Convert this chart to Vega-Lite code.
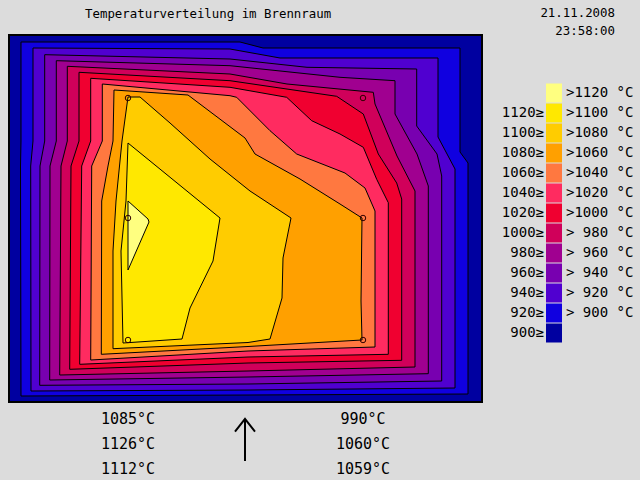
{
  "$schema": "https://vega.github.io/schema/vega-lite/v6.json",
  "background": "#DCDCDC",
  "padding": {"left": 8, "top": 6, "right": 7, "bottom": 0},
  "autosize": {"type": "pad"},
  "config": {"view": {"stroke": null}, "font": "DejaVu Sans Mono"},
  "datasets": {
    "contours": [
      {"level":900,"i":0,"x":21,"y":41},{"level":900,"i":1,"x":240,"y":41},{"level":900,"i":2,"x":263,"y":47},{"level":900,"i":3,"x":460,"y":47},{"level":900,"i":4,"x":460,"y":151},{"level":900,"i":5,"x":468,"y":162},{"level":900,"i":6,"x":468,"y":393},{"level":900,"i":7,"x":248,"y":394},{"level":900,"i":8,"x":21,"y":395},{"level":900,"i":9,"x":20.5,"y":165},{"level":900,"i":10,"x":21,"y":140},
      {"level":920,"i":0,"x":33,"y":47},{"level":920,"i":1,"x":230,"y":48},{"level":920,"i":2,"x":280,"y":57},{"level":920,"i":3,"x":438,"y":57},{"level":920,"i":4,"x":438,"y":136},{"level":920,"i":5,"x":455,"y":168},{"level":920,"i":6,"x":455,"y":387},{"level":920,"i":7,"x":248,"y":389},{"level":920,"i":8,"x":31,"y":390},{"level":920,"i":9,"x":30.7,"y":165},{"level":920,"i":10,"x":33,"y":140},
      {"level":940,"i":0,"x":44.7,"y":53.7},{"level":940,"i":1,"x":230,"y":58},{"level":940,"i":2,"x":307,"y":66.3},{"level":940,"i":3,"x":416.7,"y":68},{"level":940,"i":4,"x":416.7,"y":125},{"level":940,"i":5,"x":437,"y":153},{"level":940,"i":6,"x":441.7,"y":175},{"level":940,"i":7,"x":441.7,"y":380},{"level":940,"i":8,"x":248,"y":383},{"level":940,"i":9,"x":39.7,"y":384.3},{"level":940,"i":10,"x":40,"y":165},{"level":940,"i":11,"x":44.7,"y":140},
      {"level":960,"i":0,"x":56.3,"y":59.7},{"level":960,"i":1,"x":230,"y":64.7},{"level":960,"i":2,"x":340,"y":76.3},{"level":960,"i":3,"x":395,"y":79.7},{"level":960,"i":4,"x":395,"y":113},{"level":960,"i":5,"x":417,"y":153},{"level":960,"i":6,"x":428.3,"y":185},{"level":960,"i":7,"x":428.3,"y":372.7},{"level":960,"i":8,"x":248,"y":376},{"level":960,"i":9,"x":49.7,"y":379},{"level":960,"i":10,"x":50,"y":165},{"level":960,"i":11,"x":56.3,"y":140},
      {"level":980,"i":0,"x":67.3,"y":65.3},{"level":980,"i":1,"x":230,"y":73},{"level":980,"i":2,"x":287,"y":83},{"level":980,"i":3,"x":373.3,"y":91.3},{"level":980,"i":4,"x":375,"y":103},{"level":980,"i":5,"x":397,"y":155},{"level":980,"i":6,"x":415,"y":190},{"level":980,"i":7,"x":415,"y":366},{"level":980,"i":8,"x":248,"y":370},{"level":980,"i":9,"x":59.7,"y":374},{"level":980,"i":10,"x":61,"y":165},{"level":980,"i":11,"x":67.3,"y":140},
      {"level":1000,"i":0,"x":79,"y":71.3},{"level":1000,"i":1,"x":230,"y":79.7},{"level":1000,"i":2,"x":336.7,"y":95.3},{"level":1000,"i":3,"x":363.3,"y":113},{"level":1000,"i":4,"x":378.3,"y":153},{"level":1000,"i":5,"x":396.7,"y":182},{"level":1000,"i":6,"x":401.7,"y":198},{"level":1000,"i":7,"x":401.7,"y":359.3},{"level":1000,"i":8,"x":248,"y":362},{"level":1000,"i":9,"x":69.7,"y":368.3},{"level":1000,"i":10,"x":71,"y":165},{"level":1000,"i":11,"x":79,"y":140},
      {"level":1020,"i":0,"x":90.7,"y":77.3},{"level":1020,"i":1,"x":230,"y":86.3},{"level":1020,"i":2,"x":286.7,"y":96.3},{"level":1020,"i":3,"x":311.7,"y":119.7},{"level":1020,"i":4,"x":340,"y":133},{"level":1020,"i":5,"x":363.3,"y":146.3},{"level":1020,"i":6,"x":376.7,"y":178.3},{"level":1020,"i":7,"x":388.3,"y":201.7},{"level":1020,"i":8,"x":388.3,"y":353.3},{"level":1020,"i":9,"x":248,"y":356},{"level":1020,"i":10,"x":79.7,"y":363.3},{"level":1020,"i":11,"x":81.7,"y":165},{"level":1020,"i":12,"x":90.7,"y":140},
      {"level":1040,"i":0,"x":102.3,"y":83},{"level":1040,"i":1,"x":230,"y":94.7},{"level":1040,"i":2,"x":236.7,"y":96.3},{"level":1040,"i":3,"x":270,"y":129.7},{"level":1040,"i":4,"x":296.7,"y":153},{"level":1040,"i":5,"x":345,"y":172},{"level":1040,"i":6,"x":365,"y":187},{"level":1040,"i":7,"x":375,"y":210},{"level":1040,"i":8,"x":375,"y":346},{"level":1040,"i":9,"x":248,"y":350},{"level":1040,"i":10,"x":90.7,"y":359},{"level":1040,"i":11,"x":91.7,"y":165},{"level":1040,"i":12,"x":102.3,"y":140},
      {"level":1060,"i":0,"x":114,"y":89},{"level":1060,"i":1,"x":188,"y":94},{"level":1060,"i":2,"x":245,"y":137},{"level":1060,"i":3,"x":255,"y":153},{"level":1060,"i":4,"x":300,"y":178},{"level":1060,"i":5,"x":340,"y":203},{"level":1060,"i":6,"x":362,"y":217},{"level":1060,"i":7,"x":361,"y":300},{"level":1060,"i":8,"x":362,"y":339},{"level":1060,"i":9,"x":248,"y":345.5},{"level":1060,"i":10,"x":101.3,"y":353.3},{"level":1060,"i":11,"x":101.7,"y":200},{"level":1060,"i":12,"x":108,"y":165},{"level":1060,"i":13,"x":113,"y":140},
      {"level":1080,"i":0,"x":128,"y":96},{"level":1080,"i":1,"x":140,"y":96},{"level":1080,"i":2,"x":170,"y":122},{"level":1080,"i":3,"x":210,"y":158},{"level":1080,"i":4,"x":250,"y":190},{"level":1080,"i":5,"x":291,"y":217},{"level":1080,"i":6,"x":283,"y":257},{"level":1080,"i":7,"x":282,"y":297},{"level":1080,"i":8,"x":270,"y":338},{"level":1080,"i":9,"x":248,"y":341.5},{"level":1080,"i":10,"x":113,"y":347.7},{"level":1080,"i":11,"x":113,"y":250},{"level":1080,"i":12,"x":116,"y":200},{"level":1080,"i":13,"x":122,"y":140},
      {"level":1100,"i":0,"x":128,"y":142},{"level":1100,"i":1,"x":220,"y":217},{"level":1100,"i":2,"x":213,"y":260},{"level":1100,"i":3,"x":190,"y":307},{"level":1100,"i":4,"x":182,"y":338},{"level":1100,"i":5,"x":123,"y":342},{"level":1100,"i":6,"x":121,"y":250},{"level":1100,"i":7,"x":126,"y":200},
      {"level":1120,"i":0,"x":128,"y":200},{"level":1120,"i":1,"x":148,"y":218},{"level":1120,"i":2,"x":149,"y":221},{"level":1120,"i":3,"x":128,"y":269}
    ],
    "sensors": [
      {"side":"links","row":1,"x":128,"y":97,"temp":1085},
      {"side":"links","row":2,"x":128,"y":217,"temp":1126},
      {"side":"links","row":3,"x":128,"y":339,"temp":1112},
      {"side":"rechts","row":1,"x":363,"y":97,"temp":990},
      {"side":"rechts","row":2,"x":363,"y":217,"temp":1060},
      {"side":"rechts","row":3,"x":363,"y":339,"temp":1059}
    ],
    "legend": [
      {"level":1120,"left":"","right":">1120 °C"},
      {"level":1100,"left":"1120≥","right":">1100 °C"},
      {"level":1080,"left":"1100≥","right":">1080 °C"},
      {"level":1060,"left":"1080≥","right":">1060 °C"},
      {"level":1040,"left":"1060≥","right":">1040 °C"},
      {"level":1020,"left":"1040≥","right":">1020 °C"},
      {"level":1000,"left":"1020≥","right":">1000 °C"},
      {"level":980,"left":"1000≥","right":"> 980 °C"},
      {"level":960,"left":"980≥","right":"> 960 °C"},
      {"level":940,"left":"960≥","right":"> 940 °C"},
      {"level":920,"left":"940≥","right":"> 920 °C"},
      {"level":900,"left":"920≥","right":"> 900 °C"},
      {"level":880,"left":"900≥","right":""}
    ]
  },
  "spacing": 18,
  "resolve": {"scale": {"x": "independent", "y": "independent", "color": "independent"}},
  "hconcat": [
    {
      "spacing": 0,
      "resolve": {"scale": {"x": "independent", "y": "independent", "color": "independent"}},
      "vconcat": [
        {
          "width": 473,
          "height": 367,
          "title": {"text": "Temperaturverteilung im Brennraum", "anchor": "start", "frame": "group", "dx": 76, "offset": 15, "font": "DejaVu Sans Mono", "fontSize": 12.4, "fontWeight": "normal", "color": "#000000"},
          "view": {"fill": "#0000A0", "stroke": "#000000", "strokeWidth": 2},
          "layer": [
            {
              "data": {"name": "contours"},
              "mark": {"type": "line", "filled": true, "interpolate": "linear-closed", "stroke": "#000000", "strokeWidth": 1, "clip": true},
              "encoding": {
                "x": {"field": "x", "type": "quantitative", "scale": {"domain": [9, 482], "nice": false, "zero": false}, "axis": null},
                "y": {"field": "y", "type": "quantitative", "scale": {"domain": [34, 401], "nice": false, "zero": false, "reverse": true}, "axis": null},
                "color": {"field": "level", "type": "ordinal", "legend": null,
                  "scale": {"domain": [880,900,920,940,960,980,1000,1020,1040,1060,1080,1100,1120],
                            "range": ["#0000A0","#1000E0","#5000D0","#7800B0","#A00090","#D0005A","#F00030","#FF2B60","#FF7840","#FFA000","#FFCC00","#FFE800","#FFFF80"]}},
                "order": {"field": "i", "type": "quantitative"}
              }
            },
            {
              "data": {"name": "sensors"},
              "mark": {"type": "point", "shape": "circle", "filled": false, "stroke": "#300000", "strokeWidth": 1, "size": 30, "opacity": 1},
              "encoding": {
                "x": {"field": "x", "type": "quantitative"},
                "y": {"field": "y", "type": "quantitative"}
              }
            }
          ]
        },
        {
          "width": 473,
          "height": 76,
          "view": {"fill": "#DCDCDC", "stroke": "#DCDCDC", "strokeWidth": 2},
          "layer": [
            {
              "data": {"name": "sensors"},
              "transform": [{"calculate": "datum.temp + '°C'", "as": "label"}],
              "mark": {"type": "text", "font": "DejaVu Sans Mono", "fontSize": 15, "color": "#000000", "baseline": "middle", "align": "center"},
              "encoding": {
                "x": {"field": "x", "type": "quantitative", "scale": {"domain": [9, 482], "nice": false, "zero": false}, "axis": null},
                "y": {"field": "row", "type": "quantitative", "scale": {"domain": [0.401, 3.441], "nice": false, "zero": false, "reverse": true}, "axis": null},
                "text": {"field": "label"}
              }
            },
            {
              "data": {"values": [{}]},
              "mark": {"type": "rule", "color": "#000000", "strokeWidth": 2},
              "encoding": {"x": {"datum": 245}, "y": {"datum": 1}, "y2": {"datum": 2.68}}
            },
            {
              "data": {"values": [{}]},
              "mark": {"type": "point", "shape": "M-1,1.27L0,0L1,1.27", "filled": false, "stroke": "#000000", "strokeWidth": 2, "size": 400, "opacity": 1},
              "encoding": {"x": {"datum": 245}, "y": {"datum": 1}}
            }
          ]
        }
      ]
    },
    {
      "width": 16,
      "height": 308,
      "title": {"text": ["21.11.2008", "23:58:00"], "anchor": "end", "frame": "group", "dx": 53, "offset": -2, "font": "DejaVu Sans Mono", "fontSize": 12.4, "lineHeight": 18, "fontWeight": "normal", "color": "#000000"},
      "view": {"fill": "#DCDCDC", "stroke": null},
      "data": {"name": "legend"},
      "encoding": {
        "y": {"field": "level", "type": "quantitative", "axis": null, "scale": {"domain": [870, 1178], "nice": false, "zero": false}}
      },
      "layer": [
        {
          "mark": {"type": "rect", "height": 19},
          "encoding": {
            "color": {"field": "level", "type": "ordinal", "legend": null,
              "scale": {"domain": [880,900,920,940,960,980,1000,1020,1040,1060,1080,1100,1120],
                        "range": ["#0000A0","#1000E0","#5000D0","#7800B0","#A00090","#D0005A","#F00030","#FF2B60","#FF7840","#FFA000","#FFCC00","#FFE800","#FFFF80"]}}
          }
        },
        {
          "mark": {"type": "text", "align": "right", "baseline": "middle", "dx": -10, "font": "DejaVu Sans Mono", "fontSize": 14, "color": "#000000"},
          "encoding": {"text": {"field": "left"}}
        },
        {
          "mark": {"type": "text", "align": "left", "baseline": "middle", "dx": 12, "font": "DejaVu Sans Mono", "fontSize": 14, "color": "#000000"},
          "encoding": {"text": {"field": "right"}}
        }
      ]
    }
  ]
}
